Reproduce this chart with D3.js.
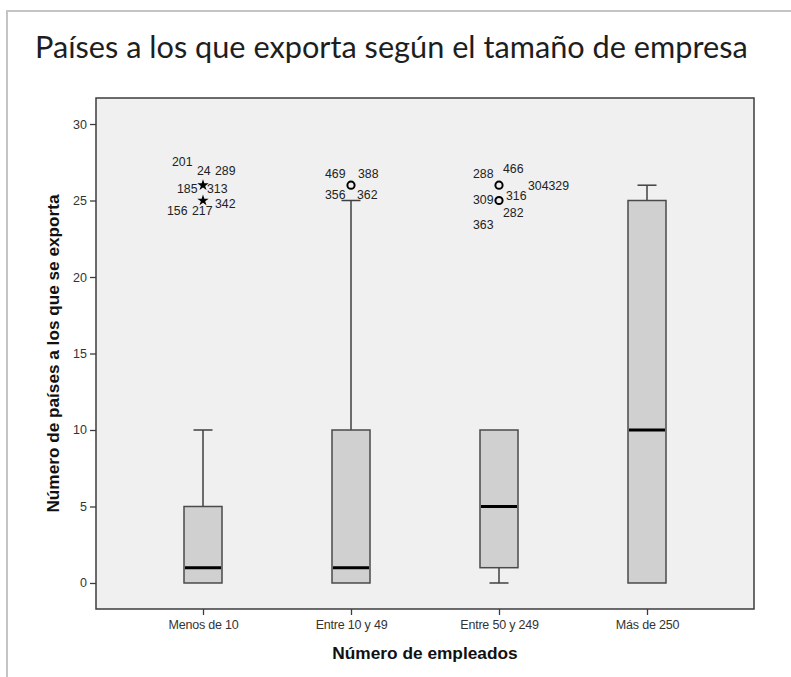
<!DOCTYPE html>
<html>
<head>
<meta charset="utf-8">
<script src="https://cdn.jsdelivr.net/npm/d3@7"></script>
<style>
  html, body { margin: 0; padding: 0; background: #fff; }
  svg { display: block; }
</style>
</head>
<body>
<svg id="chart" width="791" height="677"></svg>
<script>
// Company size groups and box-plot summaries (number of export countries)
const categories = ["Menos de 10", "Entre 10 y 49", "Entre 50 y 249", "Más de 250"];
const whiskerLow  = [0, 0, 0, 0];
const q1          = [0, 0, 1, 0];
const median      = [1, 1, 5, 10];
const q3          = [5, 10, 10, 25];
const whiskerHigh = [10, 25, 10, 26];

const yTicks = [0, 5, 10, 15, 20, 25, 30];

// Atypical cases: "o" = outlier, "*" = extreme
const outlierGroup = ["Menos de 10", "Menos de 10", "Entre 10 y 49", "Entre 50 y 249", "Entre 50 y 249"];
const outlierValue = [26, 25, 26, 26, 25];
const outlierKind  = ["*", "*", "o", "o", "o"];

// Case numbers printed next to the atypical points
const caseGroup = ["Menos de 10","Menos de 10","Menos de 10","Menos de 10","Menos de 10","Menos de 10","Menos de 10","Menos de 10",
                   "Entre 10 y 49","Entre 10 y 49","Entre 10 y 49","Entre 10 y 49",
                   "Entre 50 y 249","Entre 50 y 249","Entre 50 y 249","Entre 50 y 249","Entre 50 y 249","Entre 50 y 249","Entre 50 y 249"];
const caseValue = [26, 26, 26, 26, 26, 25, 25, 25,
                   26, 26, 26, 26,
                   26, 26, 26, 25, 25, 25, 25];
const caseText  = ["201","24","289","185","313","342","156","217",
                   "469","388","356","362",
                   "288","466","304329","316","309","282","363"];
// label placement relative to its point: [dx of text start, dy of baseline]
const caseOffset = [[-31,-19],[-6,-10],[12,-10],[-26,8],[4,8],[12,7.5],[-36,14.5],[-11,14.5],
                    [-26,-7],[7,-7],[-26,14],[6,14],
                    [-26,-7],[4,-12],[29,5],[7,-0.5],[-26,3.5],[4,16.5],[-26,28.5]];

const svg = d3.select("#chart");
const W = 791, H = 677;

// outer frame (top and left edges visible)
svg.append("path")
  .attr("d", `M7,${H} L7,11 L${W},11`)
  .attr("fill", "none").attr("stroke", "#c4c4c4").attr("stroke-width", 2);

// Title
const title = svg.append("text")
  .attr("x", 35).attr("y", 58)
  .attr("font-family", "Lato, 'Open Sans', sans-serif")
  .attr("font-size", 30)
  .attr("fill", "#1e1e1e")
  .text("Países a los que exporta según el tamaño de empresa");
{
  const target = 713;
  const len = title.node().getComputedTextLength();
  title.attr("font-size", 30 * target / len);
}

const plot = { left: 96, right: 754, top: 98, bottom: 609 };

const x = d3.scalePoint().domain(categories).range([plot.left, plot.right]).padding(0.723);
const y = d3.scaleLinear().domain([-1.7, 31.7]).range([plot.bottom, plot.top]);

// plot background
svg.append("rect")
  .attr("x", plot.left).attr("y", plot.top)
  .attr("width", plot.right - plot.left).attr("height", plot.bottom - plot.top)
  .attr("fill", "#f0f0f0").attr("stroke", "#3c3c3c").attr("stroke-width", 1.5);

// y axis
const yAxis = svg.append("g")
  .attr("transform", `translate(${plot.left},0)`)
  .call(d3.axisLeft(y).tickValues(yTicks).tickSize(6).tickPadding(3));
yAxis.select(".domain").remove();
yAxis.selectAll(".tick line").attr("stroke", "#3c3c3c").attr("stroke-width", 1.3);
yAxis.selectAll(".tick text")
  .attr("font-family", "'Liberation Sans', Arial, sans-serif")
  .attr("font-size", 12.5).attr("fill", "#333");

// x axis
const xAxis = svg.append("g")
  .attr("transform", `translate(0,${plot.bottom})`)
  .call(d3.axisBottom(x).tickSize(6).tickPadding(5));
xAxis.select(".domain").remove();
xAxis.selectAll(".tick line").attr("stroke", "#3c3c3c").attr("stroke-width", 1.3);
xAxis.selectAll(".tick text")
  .attr("font-family", "'Liberation Sans', Arial, sans-serif")
  .attr("font-size", 12.5).attr("fill", "#333").attr("letter-spacing", -0.2);

// axis titles
svg.append("text")
  .attr("x", (plot.left + plot.right) / 2).attr("y", 659)
  .attr("text-anchor", "middle")
  .attr("font-family", "'Liberation Sans', Arial, sans-serif")
  .attr("font-weight", "bold").attr("font-size", 17.3).attr("fill", "#111")
  .text("Número de empleados");

svg.append("text")
  .attr("transform", `translate(59,${(plot.top + plot.bottom) / 2}) rotate(-90)`)
  .attr("text-anchor", "middle")
  .attr("font-family", "'Liberation Sans', Arial, sans-serif")
  .attr("font-weight", "bold").attr("font-size", 17.2).attr("fill", "#111")
  .text("Número de países a los que se exporta");

// boxes
const boxW = 38, capW = 19;
const boxes = categories.map((c, i) => ({
  c, lo: whiskerLow[i], q1: q1[i], med: median[i], q3: q3[i], hi: whiskerHigh[i]
}));

const g = svg.append("g");
boxes.forEach(b => {
  const cx = x(b.c);
  const wStroke = "#404040";
  // upper whisker
  if (b.hi > b.q3) {
    g.append("line").attr("x1", cx).attr("x2", cx).attr("y1", y(b.q3)).attr("y2", y(b.hi))
      .attr("stroke", wStroke).attr("stroke-width", 1.5);
    g.append("line").attr("x1", cx - capW / 2).attr("x2", cx + capW / 2).attr("y1", y(b.hi)).attr("y2", y(b.hi))
      .attr("stroke", wStroke).attr("stroke-width", 1.5);
  }
  // lower whisker
  if (b.lo < b.q1) {
    g.append("line").attr("x1", cx).attr("x2", cx).attr("y1", y(b.q1)).attr("y2", y(b.lo))
      .attr("stroke", wStroke).attr("stroke-width", 1.5);
    g.append("line").attr("x1", cx - capW / 2).attr("x2", cx + capW / 2).attr("y1", y(b.lo)).attr("y2", y(b.lo))
      .attr("stroke", wStroke).attr("stroke-width", 1.5);
  }
  g.append("rect")
    .attr("x", cx - boxW / 2).attr("y", y(b.q3))
    .attr("width", boxW).attr("height", y(b.q1) - y(b.q3))
    .attr("fill", "#d0d0d0").attr("stroke", "#4a4a4a").attr("stroke-width", 1.5);
  g.append("line")
    .attr("x1", cx - boxW / 2 + 1).attr("x2", cx + boxW / 2 - 1)
    .attr("y1", y(b.med)).attr("y2", y(b.med))
    .attr("stroke", "#000").attr("stroke-width", 3);
});

// atypical points
outlierGroup.forEach((grp, i) => {
  const cx = x(grp), cy = y(outlierValue[i]);
  if (outlierKind[i] === "o") {
    g.append("circle").attr("cx", cx).attr("cy", cy).attr("r", 3.6)
      .attr("fill", "none").attr("stroke", "#000").attr("stroke-width", 2);
  } else {
    g.append("path")
      .attr("d", d3.symbol(d3.symbolStar, 40)())
      .attr("transform", `translate(${cx},${cy})`)
      .attr("fill", "#000");
  }
});

// case numbers
caseText.forEach((t, i) => {
  const cx = x(caseGroup[i]), cy = y(caseValue[i]);
  g.append("text")
    .attr("x", cx + caseOffset[i][0]).attr("y", cy + caseOffset[i][1])
    .attr("font-family", "'Liberation Sans', Arial, sans-serif")
    .attr("font-size", 12.3).attr("fill", "#222")
    .text(t);
});
</script>
</body>
</html>
